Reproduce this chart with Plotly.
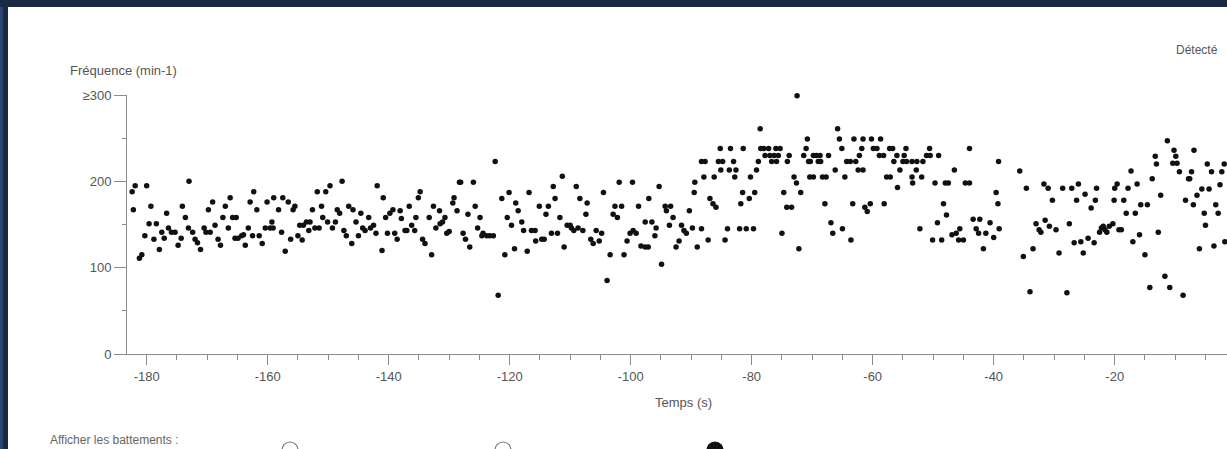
import plotly.graph_objects as go

# ---- data (time in s, frequency in min-1) ----
t_seg1 = [-182.4,-181.9,-182.2,-180.0,-180.3,-181.2,-180.8,-179.3,-179.6,-178.4,-178.8,-177.9,-177.5,-177.1,
          -176.7,-176.4,-175.9,-175.3,-174.8,-174.3,-174.1,-173.6,-173.0,-173.1,-172.4,-172.0,-171.6,-171.1,
          -170.5,-170.2,-169.5,-169.8,-169.1,-168.7,-168.2,-167.8,-167.4,-167.0,-166.5,-166.2,-165.8,-165.2,
          -165.4,-164.9,-164.3,-164.0,-163.7,-163.2,-162.9,-162.5,-162.3,-161.8,-161.4,-160.9,-160.4,-160.1,
          -159.6,-159.3,-159.1,-159.0,-158.2,-157.7,-157.5,-157.1,-156.6,-156.2,-155.8,-155.5,-155.0,-154.7,
          -154.3,-154.1,-153.6,-153.2,-153.0,-152.6,-152.2,-151.8,-151.5,-151.1,-150.9,-150.4,-150.1,-149.7,
          -149.3,-148.8,-148.5,-148.1,-147.7,-147.4,-147.0,-146.6,-146.1,-145.9,-145.4,-145.0,-144.6,-144.3,
          -143.9,-143.3,-143.0,-142.5,-142.1,-141.9,-141.1,-140.9,-140.5,-140.2,-139.8,-139.3,-139.0,-138.6]
f_seg1 = [188,195,167,195,137,111,115,171,151,151,133,121,141,134,
          163,146,141,141,126,134,171,158,200,146,141,133,129,121,
          146,141,141,167,176,149,133,126,158,171,146,181,158,158,
          134,134,137,138,126,146,176,137,188,167,137,128,146,176,
          146,153,146,181,167,141,181,119,176,133,167,171,137,149,
          132,149,153,143,153,167,146,188,146,171,158,188,153,195,
          146,153,167,163,200,143,137,171,128,167,153,137,163,146,
          143,158,146,149,140,195,120,181,158,140,163,167,140,133]

t_seg2 = [-138.1,-137.9,-137.3,-137.0,-136.6,-136.2,-135.7,-135.5,-135.1,-134.8,-134.4,-134.0,-133.3,-132.9,
          -132.6,-132.2,-131.6,-131.5,-131.1,-130.7,-130.4,-130.0,-129.4,-129.2,-128.7,-128.3,-128.1,-127.7,
          -127.3,-126.9,-126.6,-126.0,-125.7,-125.3,-124.9,-124.6,-124.4,-123.8,-123.3,-122.7,-122.4,-121.9,
          -121.3,-120.8,-120.4,-120.1,-119.7,-119.2,-119.0,-118.6,-118.0,-117.7,-117.1,-116.8,-116.4,-115.8,
          -115.7,-115.1,-114.7,-114.3,-114.0,-113.6,-113.1,-112.8,-112.5,-112.1,-111.7,-111.3,-111.0,-110.5,
          -110.0,-109.8,-109.4,-109.0,-108.7,-108.4,-107.9,-107.4,-107.2,-106.6,-106.2,-105.7,-105.2,-104.8,
          -104.5,-103.9,-103.4,-102.9,-102.6,-102.2,-101.9,-101.5,-101.1,-100.6,-100.1,-99.7,-99.6,-99.1,
          -98.7,-98.3,-97.6,-97.1,-97.6,-97.0,-96.5,-96.0,-95.8,-95.3,-94.9,-94.3,-94.1,-93.4,
          -93.6,-93.0,-92.5,-92.0,-91.6,-91.2,-90.8,-90.3,-89.8,-89.5,-89.4,-89.0]
f_seg2 = [166,157,143,143,171,149,143,158,181,188,133,128,158,115,
          171,146,166,151,153,158,140,142,175,181,166,199,199,140,
          133,162,124,199,171,146,158,137,140,137,137,137,223,68,
          180,115,158,187,149,122,175,166,153,143,119,187,143,143,
          131,171,133,133,162,171,140,194,180,140,158,206,124,149,
          149,146,143,194,146,180,143,162,175,133,128,143,131,140,
          187,85,115,162,171,158,199,171,115,131,140,199,143,140,
          171,125,124,124,153,180,153,137,146,194,104,171,166,171,
          149,158,124,131,149,143,140,166,146,187,199,124]

t_seg3 = [-72.5,-78.6,-65.8,
          -70.8,-65.5,-63.1,-61.6,-60.2,-58.7,
          -85.2,-83.5,-81.4,-78.5,-78.0,-77.2,-76.0,-75.3,-71.0,-65.1,-61.8,-59.9,-59.3,-57.2,-56.7,-54.5,-50.6,-44.0,
          -77.8,-77.0,-76.3,-75.6,-73.8,-71.4,-69.8,-69.3,-68.7,-67.3,-62.2,-58.9,-58.2,-56.0,-54.8,-51.1,-50.5,-49.1,
          -88.3,-87.7,-85.5,-84.8,-83.0,-78.9,-76.7,-75.9,-74.1,-70.6,-70.3,-69.0,-68.6,-64.3,-63.7,-62.8,-56.5,-55.0,
          -54.4,-53.5,-52.7,-51.7,-39.2,
          -85.1,-83.7,-82.6,-79.2,-66.2,-62.4,-61.6,-55.5,-52.8,-46.5,
          -87.9,-86.2,-82.8,-80.2,-73.0,-70.4,-69.8,-68.3,-67.7,-64.6,-57.7,-57.1,-53.5,-51.9,
          -72.6,-53.4,-49.7,-48.0,-47.5,-44.7,-44.0,
          -55.9,
          -81.5,-79.5,-74.7,-71.9,-39.6,
          -86.9,-80.4,
          -86.4,-81.8,-67.9,-63.3,-60.4,-58.1,-48.3,-39.3,
          -85.9,-74.2,-73.4,-61.3,
          -60.9,-47.8,-43.4,-42.3,
          -66.9,-49.3,-40.6,
          -88.3,-84.0,-82.0,-80.9,-79.7,-65.0,-52.2,-45.6,-42.9,-39.1,
          -75.0,-66.6,-46.2,-41.3,-42.5,
          -46.9,-40.0,
          -87.2,-84.4,-63.6,-50.1,-48.6,-45.8,-45.0,
          -72.2,-41.7]
f_seg3 = [299,261,261,
          249,249,249,249,249,249,
          238,238,238,238,238,238,238,238,238,238,238,238,238,238,238,238,238,238,
          230,230,230,230,230,230,230,230,230,230,230,230,230,230,230,230,230,230,
          223,223,223,223,223,223,223,223,223,223,223,223,223,223,223,223,223,223,
          223,223,223,223,223,
          213,213,213,213,213,213,213,213,213,213,
          205,205,205,205,205,205,205,205,205,205,205,205,205,205,
          198,198,198,198,198,198,198,
          193,
          187,187,187,187,187,
          180,180,
          174,174,174,174,174,174,174,174,
          170,170,170,170,
          165,161,156,156,
          152,152,152,
          145,145,145,145,145,145,145,145,145,145,
          140,140,140,140,140,
          138,135,
          132,132,132,132,132,132,132,
          122,122]

t_seg4 = [-35.7,-35.1,-34.6,-33.5,-34.0,-33.0,-32.5,-32.2,-31.7,-31.5,-31.0,-30.8,-30.3,-29.7,
          -29.2,-28.6,-27.9,-27.5,-27.1,-26.7,-26.3,-26.0,-25.6,-25.2,-24.9,-24.4,-23.9,-23.4,
          -23.2,-23.0,-22.5,-22.2,-21.9,-21.6,-21.3,-20.9,-20.3,-20.1,-20.0,-19.6,-19.3,-18.9,
          -18.5,-18.1,-17.8,-17.3,-17.0,-16.6,-16.3,-15.9,-15.7,-15.0,-14.6,-14.2,-13.8,-13.3,
          -13.1,-12.8,-12.4,-11.7,-11.3,-10.9,-10.4,-10.2,-9.9,-9.7,-9.3,-8.7,-8.3,-7.8,
          -7.6,-7.3,-7.0,-6.9,-6.4,-6.0,-5.6,-5.2,-5.0,-4.7,-4.4,-4.0,-3.6,-3.3,
          -2.9,-2.6,-2.3,-1.9,-1.8]
f_seg4 = [212,113,192,122,72,151,144,141,197,155,192,148,178,144,
          117,192,71,151,192,129,178,197,130,117,185,134,169,129,
          178,192,141,146,148,144,141,148,151,178,192,197,144,144,
          178,163,192,212,130,163,197,138,173,115,173,77,203,229,
          220,141,184,90,247,77,221,236,229,221,211,68,178,203,
          203,211,173,236,184,122,191,163,149,220,191,211,125,173,
          163,196,211,220,130]

time_s = t_seg1 + t_seg2 + t_seg3 + t_seg4
freq = f_seg1 + f_seg2 + f_seg3 + f_seg4

x_ticks = [-180, -160, -140, -120, -100, -80, -60, -40, -20]
x_ticktext = ["-180", "-160", "-140", "-120", "-100", "-80", "-60", "-40", "-20"]
y_ticks = [0, 100, 200, 300]
y_ticktext = ["0", "100", "200", "≥300"]

W, H = 1227, 449
L, R, T, B = 127, 0, 95, 95
PW, PH = W - L - R, H - T - B

def px(x):
    return (x - L) / PW

def py(y):
    return (H - B - y) / PH

FONT = "Arial, 'Liberation Sans', sans-serif"
TXT = "#555555"
AX = "#8a8a8a"

fig = go.Figure()
fig.add_trace(go.Scatter(
    x=time_s, y=freq, mode="markers",
    marker=dict(size=5.5, color="#111111", line=dict(width=0)),
    cliponaxis=False, showlegend=False, hoverinfo="x+y"))

shapes = [
    dict(type="rect", xref="paper", yref="paper", x0=px(8), x1=px(W + 5), y0=py(H + 5), y1=py(7),
         fillcolor="white", line=dict(width=0), layer="below"),
    dict(type="rect", xref="paper", yref="paper", x0=px(0), x1=px(3), y0=py(H + 5), y1=py(7),
         fillcolor="#284574", line=dict(width=0), layer="below"),
    dict(type="circle", xref="paper", yref="paper", x0=px(282), x1=px(298), y0=py(458), y1=py(442),
         line=dict(color="#777777", width=1.2), fillcolor="white"),
    dict(type="circle", xref="paper", yref="paper", x0=px(495), x1=px(511), y0=py(458), y1=py(442),
         line=dict(color="#777777", width=1.2), fillcolor="white"),
    dict(type="circle", xref="paper", yref="paper", x0=px(707), x1=px(723), y0=py(458), y1=py(442),
         line=dict(color="#111111", width=1.2), fillcolor="#111111"),
]

annotations = [
    dict(text="Fréquence (min-1)", xref="paper", yref="paper", x=px(68), y=py(70),
         xanchor="left", yanchor="middle", showarrow=False, font=dict(family=FONT, size=13, color=TXT)),
    dict(text="Détecté", xref="paper", yref="paper", x=px(1174), y=py(50),
         xanchor="left", yanchor="middle", showarrow=False, font=dict(family=FONT, size=12, color=TXT)),
    dict(text="Temps (s)", xref="paper", yref="paper", x=px(683), y=py(402),
         xanchor="center", yanchor="middle", showarrow=False, font=dict(family=FONT, size=13, color=TXT)),
    dict(text="Afficher les battements :", xref="paper", yref="paper", x=px(48), y=py(431),
         xanchor="left", yanchor="top", showarrow=False, font=dict(family=FONT, size=12, color="#666666")),
]

fig.update_layout(
    width=W, height=H, autosize=False,
    margin=dict(l=L, r=R, t=T, b=B, pad=0),
    paper_bgcolor="#1b2947", plot_bgcolor="white",
    font=dict(family=FONT, size=13, color=TXT),
    shapes=shapes, annotations=annotations,
    xaxis=dict(range=[-183.25, -1.44], tickmode="array", tickvals=x_ticks, ticktext=x_ticktext,
               ticks="outside", ticklen=10, tickwidth=1, tickcolor=AX,
               showline=True, linecolor=AX, linewidth=1, showgrid=False, zeroline=False,
               tickfont=dict(family=FONT, size=13, color=TXT),
               minor=dict(tickmode="linear", tick0=0, dtick=5, ticks="outside", ticklen=5,
                          tickcolor=AX, showgrid=False)),
    yaxis=dict(range=[0, 300], tickmode="array", tickvals=y_ticks, ticktext=y_ticktext,
               ticks="outside", ticklen=12, tickwidth=1, tickcolor=AX,
               showline=True, linecolor=AX, linewidth=1, showgrid=False, zeroline=False,
               tickfont=dict(family=FONT, size=13, color=TXT),
               minor=dict(tickmode="linear", tick0=0, dtick=50, ticks="outside", ticklen=4,
                          tickcolor=AX, showgrid=False)),
)

fig.write_html("out.html",
               config={"displayModeBar": False},
               post_script="document.body.style.margin='0';document.body.style.padding='0';"
                           "document.body.style.overflow='hidden';")
